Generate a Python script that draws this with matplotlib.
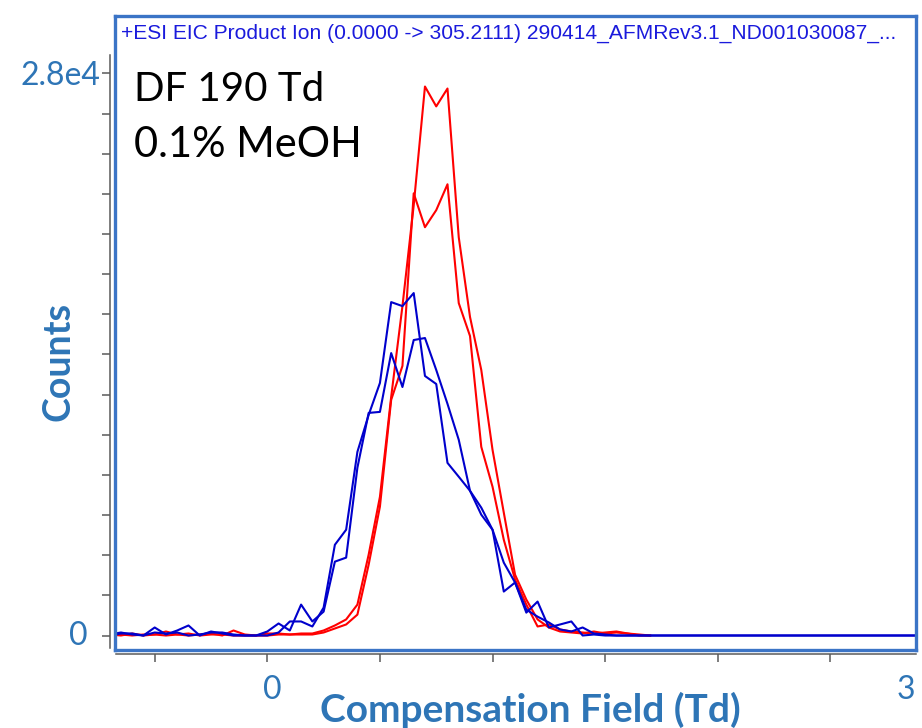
import matplotlib
matplotlib.use("Agg")
import matplotlib.pyplot as plt
import matplotlib.transforms as mtransforms

# Compensation field grid (Td)
cf = [-0.70, -0.65, -0.60, -0.55, -0.50, -0.45, -0.40, -0.35, -0.30, -0.25,
      -0.20, -0.15, -0.10, -0.05, 0.00, 0.05, 0.10, 0.15, 0.20, 0.25,
      0.30, 0.35, 0.40, 0.45, 0.50, 0.55, 0.60, 0.65, 0.70, 0.75,
      0.80, 0.85, 0.90, 0.95, 1.00, 1.05, 1.10, 1.15, 1.20, 1.25,
      1.30, 1.35, 1.40, 1.45, 1.50, 1.55, 1.60, 1.65, 1.70, 1.75,
      1.80, 1.85, 1.90, 1.95, 2.00, 2.05, 2.10, 2.15, 2.20, 2.25,
      2.30, 2.35, 2.40, 2.45, 2.50, 2.55, 2.60, 2.65, 2.70, 2.75,
      2.80, 2.85, 2.90]

red1 = [0, 50, 0, 50, 50, 200, 50, 100, 0, 50,
        50, 0, 0, 0, 100, 100, 50, 100, 100, 250,
        500, 800, 1540, 4030, 6910, 11890, 16410, 21430, 27350, 26360,
        27250, 19840, 15870, 13230, 9250, 6120, 3030, 1790, 800, 400,
        200, 150, 100, 200, 100, 150, 100, 50, 0]

red2 = [50, 0, 100, 0, 50, 0, 50, 0, 50, 100,
        0, 250, 50, 0, 0, 50, 50, 50, 50, 150,
        350, 550, 1040, 3530, 6420, 11740, 13430, 22030, 20340, 21190,
        22480, 16560, 14920, 9400, 7410, 4770, 2790, 1540, 450, 550,
        300, 200, 150, 100, 150, 200, 100, 0, 0]

blue1 = [0, 100, 100, 0, 150, 100, 150, 0, 50, 150,
         150, 50, 0, 0, 0, 150, 700, 700, 450, 1390,
         4520, 5270, 9150, 10990, 12580, 16610, 16410, 17060, 12930, 12530,
         8600, 7910, 7210, 6370, 5270, 2190, 2640, 1140, 1690, 400,
         550, 700, 0, 50, 0, 0, 0, 0, 0, 0,
         0, 0, 0, 0, 0, 0, 0, 0, 0, 0,
         0, 0, 0, 0, 0, 0, 0, 0, 0, 0,
         0, 0, 0]

blue2 = [50, 150, 50, 0, 400, 50, 250, 500, 0, 200,
         100, 0, 0, 0, 200, 600, 250, 1540, 700, 1190,
         3680, 3880, 8360, 11090, 11140, 14070, 12380, 14720, 14820, 13230,
         11540, 9750, 7210, 6020, 5270, 3630, 2640, 1290, 940, 650,
         300, 200, 400, 100, 50, 0, 0, 0, 0, 0,
         0, 0, 0, 0, 0, 0, 0, 0, 0, 0,
         0, 0, 0, 0, 0, 0, 0, 0, 0, 0,
         0, 0, 0]

x_ticks = [-0.5, 0.0, 0.5, 1.0, 1.5, 2.0, 2.5]
y_ticks = [0, 2000, 4000, 6000, 8000, 10000, 12000, 14000,
           16000, 18000, 20000, 22000, 24000, 26000, 28000]

title = "+ESI EIC Product Ion (0.0000 -> 305.2111) 290414_AFMRev3.1_ND001030087_..."
annot = ["DF 190 Td", "0.1% MeOH"]

LBLUE = "#2e75b6"
FRAME = "#3b74c6"
GRAY = "#5a5a5a"

W, H = 922, 728
fig = plt.figure(figsize=(W / 100, H / 100), dpi=100)
fig.patch.set_facecolor("white")

rect = [114.5 / W, (H - 650) / H, 801 / W, 634.5 / H]
xlim = (-0.6785, 2.878)
ylim = (-722, 30888)

# gray axis (outside frame)
ax2 = fig.add_axes(rect)
ax2.patch.set_visible(False)
ax2.set_xlim(*xlim)
ax2.set_ylim(*ylim)
for s in ["top", "right"]:
    ax2.spines[s].set_visible(False)
for s in ["left", "bottom"]:
    ax2.spines[s].set_color(GRAY)
    ax2.spines[s].set_linewidth(1.1)
ax2.spines["left"].set_position(("outward", 3.3))
ax2.spines["bottom"].set_position(("outward", 3.0))
ax2.spines["left"].set_bounds(-620, 28900)
ax2.spines["bottom"].set_bounds(-0.672, 2.878)
ax2.set_xticks(x_ticks)
ax2.set_yticks(y_ticks)
ax2.set_xticklabels([])
ax2.set_yticklabels([])
ax2.tick_params(axis="both", direction="out", length=5.5, width=1.1, color=GRAY)

# main framed axes
ax = fig.add_axes(rect)
ax.set_xlim(*xlim)
ax.set_ylim(*ylim)
ax.set_xticks([])
ax.set_yticks([])
for s in ax.spines.values():
    s.set_color(FRAME)
    s.set_linewidth(2.4)

ax.plot(cf[:len(red1)], red1, color="#ff0000", lw=1.5)
ax.plot(cf[:len(red2)], red2, color="#ff0000", lw=1.5)
ax.plot(cf[:len(blue1)], blue1, color="#0000cc", lw=1.5)
ax.plot(cf[:len(blue2)], blue2, color="#0000cc", lw=1.5)

ax.text((121 - 114.5) / 801, (650 - 33) / 634.5, title,
        transform=ax.transAxes, ha="left", va="center",
        fontsize=15.1, color="#1a1adc", family="Liberation Sans")

ax.text((134 - 114.5) / 801, (650 - 101) / 634.5, annot[0], transform=ax.transAxes,
        ha="left", va="baseline", fontsize=29, color="black", family="Lato")
ax.text((134 - 114.5) / 801, (650 - 157) / 634.5, annot[1], transform=ax.transAxes,
        ha="left", va="baseline", fontsize=30, color="black", family="Lato")

# tick labels
ytr = mtransforms.blended_transform_factory(ax.transAxes, ax.transData)
ax.text((100 - 114.5) / 801, 27850, "2.8e4", transform=ytr, ha="right", va="center",
        fontsize=23, color=LBLUE, family="Lato", clip_on=False)
ax.text((78 - 114.5) / 801, 0, "0", transform=ytr, ha="center", va="center",
        fontsize=23, color=LBLUE, family="Lato", clip_on=False)
ax.text((272 - 114.5) / 801, (650 - 690) / 634.5, "0", transform=ax.transAxes,
        ha="center", va="center", fontsize=23, color=LBLUE, family="Lato", clip_on=False)
ax.text((906 - 114.5) / 801, (650 - 690) / 634.5, "3", transform=ax.transAxes,
        ha="center", va="center", fontsize=23, color=LBLUE, family="Lato", clip_on=False)

fig.text(58 / W, (H - 361) / H, "Counts", rotation=90, ha="center", va="center",
         fontsize=27, fontweight="bold", color=LBLUE, family="Lato")
fig.text(530 / W, (H - 722) / H, "Compensation Field (Td)", ha="center", va="baseline",
         fontsize=28, fontweight="bold", color=LBLUE, family="Lato")

fig.savefig("out.png", dpi=100)
